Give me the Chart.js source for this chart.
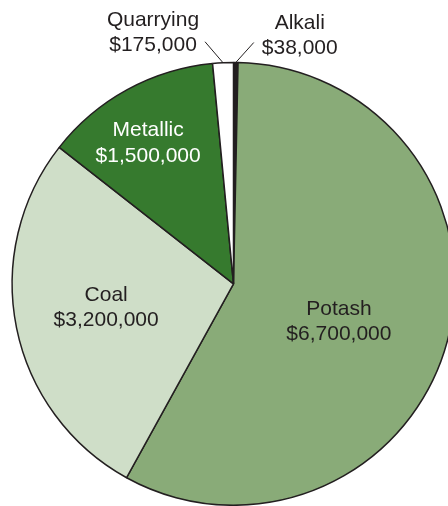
<!DOCTYPE html>
<html lang="en">
<head>
    <meta charset="UTF-8">
    <meta name="viewport" content="width=device-width, initial-scale=1.0">
    <title>Mineral production value by sector</title>
    <script src="https://cdn.jsdelivr.net/npm/chart.js"></script>
    <style>
        html, body { margin: 0; padding: 0; background: #fff; overflow: hidden; }
        .container { position: relative; width: 467px; height: 506px; }
    </style>
</head>
<body>
<main class="container">
<canvas id="mineralChart"></canvas>
</main>

<script>
    // Sectors, clockwise from 12 o'clock
    const sectors = ['Alkali', 'Potash', 'Coal', 'Metallic', 'Quarrying'];
    const values = [38000, 6700000, 3200000, 1500000, 175000];
    const valueLabels = ['$38,000', '$6,700,000', '$3,200,000', '$1,500,000', '$175,000'];

    const sliceColors = ['#231f20', '#89ab78', '#cfdec8', '#367a2e', '#ffffff'];
    const textColors = ['#231f20', '#231f20', '#231f20', '#ffffff', '#231f20'];

    // Where each label goes: inside labels sit at a fraction of the radius along the
    // slice middle (with a small turn in degrees), thin slices get a leader line out.
    const labelPlacement = [
        { outside: true, lx: 18, ly: -20, tx: 46, ty: -14 },
        { frac: 0.503, turn: 3.8 },
        { frac: 0.584, turn: 1.6 },
        { frac: 0.749, turn: -2.3 },
        { outside: true, lx: -18, ly: -21, tx: -52, ty: -16 }
    ];

    const FONT = '21px "Liberation Sans", Arial, sans-serif';
    const LINE_H = 25.5;
    const CAP_H = 15;

    const sliceLabels = {
        id: 'sliceLabels',
        afterDatasetsDraw(chart) {
            const ctx = chart.ctx;
            const arcs = chart.getDatasetMeta(0).data;
            ctx.save();
            ctx.font = FONT;
            ctx.textAlign = 'center';
            ctx.textBaseline = 'alphabetic';
            arcs.forEach((arc, i) => {
                const p = labelPlacement[i];
                const mid = (arc.startAngle + arc.endAngle) / 2;
                ctx.fillStyle = textColors[i];
                if (p.outside) {
                    const ex = arc.x + Math.cos(mid) * arc.outerRadius;
                    const ey = arc.y + Math.sin(mid) * arc.outerRadius;
                    const ox = ex + p.lx;
                    const oy = ey + p.ly;
                    ctx.strokeStyle = '#231f20';
                    ctx.lineWidth = 1;
                    ctx.beginPath();
                    ctx.moveTo(ex, ey);
                    ctx.lineTo(ox, oy);
                    ctx.stroke();
                    ctx.fillText(sectors[i], ox + p.tx, oy + p.ty);
                    ctx.fillText(valueLabels[i], ox + p.tx, oy + p.ty + LINE_H);
                } else {
                    const a = mid + p.turn * Math.PI / 180;
                    const r = arc.outerRadius * p.frac;
                    const cx = arc.x + Math.cos(a) * r;
                    const cy = arc.y + Math.sin(a) * r;
                    const base = cy - LINE_H / 2 + CAP_H / 2;
                    ctx.fillText(sectors[i], cx, base);
                    ctx.fillText(valueLabels[i], cx, base + LINE_H);
                }
            });
            ctx.restore();
        }
    };

    let ctx = document.getElementById('mineralChart').getContext('2d');
    let myChart = new Chart(ctx, {
        type: 'pie',
        data: {
            labels: sectors,
            datasets: [{
                data: values,
                backgroundColor: sliceColors,
                borderColor: '#231f20',
                borderWidth: 1.5
            }]
        },
        options: {
            responsive: true,
            maintainAspectRatio: false,
            animation: false,
            layout: {
                padding: { top: 61.75, left: 11.25, right: 11.25, bottom: 0 }
            },
            plugins: {
                legend: { display: false },
                tooltip: { enabled: false }
            }
        },
        plugins: [sliceLabels]
    });
</script>

</body>
</html>
